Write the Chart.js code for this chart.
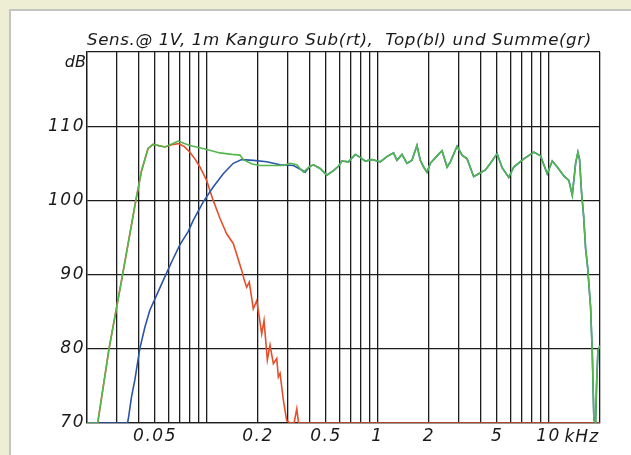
<!DOCTYPE html>
<html>
<head>
<meta charset="utf-8">
<script src="https://cdn.jsdelivr.net/npm/chart.js@4.4.1/dist/chart.umd.min.js"></script>
<style>
  html,body{margin:0;padding:0;background:#fff;}
  canvas{display:block;}
</style>
</head>
<body>
<canvas id="c" width="631" height="455"></canvas>
<script>
// ---- data (frequency in kHz, level in dB) ----
const titleText = "Sens.@ 1V, 1m Kanguro Sub(rt),  Top(bl) und Summe(gr)";

// Summe (green)
const sumFreq = [0.02,0.0231,0.0269,0.0323,0.0386,0.0417,0.0455,0.0487,0.0571,0.0627,0.0683,0.0737,0.0799,0.0953,0.1198,0.1408,0.1569,0.164,0.1845,0.2055,0.2813,
  0.308,0.3372,0.3685,0.4033,0.4218,0.4616,0.5052,0.5524,0.5908,0.6185,0.6761,0.7404,0.792,0.8472,0.9273,1.037,1.135,1.241,1.299,1.39,1.487,1.59,1.701,1.779,1.86,1.947,2.036,2.228,2.384,2.551,2.667,2.919,3.122,3.34,3.651,3.905,4.275,4.574,5.005,5.355,5.854,6.263,7.166,8.202,8.978,9.826,10.51,11.25,12.29,13.15,13.77,14.4,14.85,15.19,15.61,16.03,16.48,16.93,17.62,18.03,18.42,18.85,19.11,19.45,19.98];
const sumDb = [70,70,80,90,100,104,107.0,107.55,107.2,107.6,108.0,107.7,107.4,107.0,106.4,106.2,106.1,105.5,104.9,104.7,104.7,
  105.0,104.8,103.8,104.6,104.8,104.3,103.4,104.0,104.6,105.3,105.2,106.2,105.8,105.3,105.5,105.2,105.9,106.4,105.4,106.2,105.0,105.4,107.4,105.4,104.5,103.8,105.0,106.0,106.7,104.5,105.2,107.3,106.1,105.6,103.2,103.6,104.1,105.0,106.3,104.4,103.1,104.5,105.6,106.5,106.0,103.6,105.3,104.5,103.3,102.7,100.7,105.0,106.5,105.5,101.0,98.0,93.5,91.0,85.6,79.4,70.4,70.0,75.3,79.8,80.4];

// Sub (red)
const subFreq = [0.02,0.0231,0.0269,0.0323,0.0386,0.0417,0.0455,0.0487,0.0571,0.0627,0.0683,0.0737,0.0799,0.0855,0.0915,0.1001,0.1094,0.1198,0.1311,0.1433,0.1605,0.1656,0.1717,0.1779,0.1877,0.1966,0.2028,0.2102,0.2169,0.2268,0.2351,0.2459,0.2574,0.263,0.2692,0.2813,0.2945,0.308,0.3251,0.3372,0.3454,20];
const subDb = [70,70,80,90,100,104,107.0,107.55,107.2,107.5,107.65,107.3,106.5,105.6,104.5,102.7,100.0,97.6,95.5,94.2,90.6,89.4,88.3,89.0,85.4,86.5,84.5,82.0,83.8,78.5,80.5,78.0,78.7,76.2,76.7,73.1,70.3,70,70,71.9,70,70];

// Top (blue), low part; above 0.41 kHz it runs under the green sum curve
const topFreqLow = [0.02,0.0345,0.0348,0.0364,0.0381,0.0407,0.0436,0.0466,0.051,0.0578,0.0625,0.0698,0.0781,0.0836,0.0957,0.1094,0.1253,0.1433,0.1605,0.1877,0.225,0.2692,0.3221,0.3607,0.3771,0.4033];
const topDbLow = [70,70,70.4,73.5,75.8,80.0,82.9,85.2,87.2,90.0,91.7,94.0,95.8,97.3,99.8,101.8,103.6,105.0,105.5,105.4,105.2,104.8,104.7,104.1,103.8,104.6];

// axis
const gridFreqs = [0.02,0.03,0.04,0.05,0.06,0.07,0.08,0.09,0.1,0.2,0.3,0.4,0.5,0.6,0.7,0.8,0.9,1,2,3,4,5,6,7,8,9,10,20];
const xLabelFreqs = [0.05,0.2,0.5,1,2,5,10];
const yTicks = [70,80,90,100,110];

// ---- build series ----
const pts = (fx, dy) => fx.map((f,i)=>({x:f,y:dy[i]}));
const sumData = pts(sumFreq,sumDb);
const subData = pts(subFreq,subDb);
const topData = pts(topFreqLow,topDbLow).concat(sumData.filter(p=>p.x>0.41));

const GREEN='#52b84e', RED='#e5502b', BLUE='#2b55a8', GRID='#1c1c1c';
const FONT='"DejaVu Sans"';

const deco = {
  id:'deco',
  beforeDraw(chart){
    const ctx=chart.ctx;
    ctx.save();
    ctx.fillStyle='#eeeed4'; ctx.fillRect(0,0,631,455);
    ctx.fillStyle='#ffffff'; ctx.fillRect(10,10,621,445);
    ctx.fillStyle='#c4c4c4'; ctx.fillRect(9,9,622,2); ctx.fillRect(9,9,2,446);
    ctx.restore();
    ctx.letterSpacing='1.5px';
  },
  afterDraw(chart){
    const ctx=chart.ctx, a=chart.chartArea, xs=chart.scales.x;
    ctx.save();
    ctx.fillStyle='#1a1a1a';
    // title
    ctx.letterSpacing='0.6px';
    ctx.font='italic 17px '+FONT;
    const w=ctx.measureText(titleText).width;
    const size=17*505/w;
    ctx.font='italic '+size.toFixed(2)+'px '+FONT;
    ctx.textAlign='left'; ctx.textBaseline='alphabetic';
    ctx.fillText(titleText, a.left, 44.5);
    // dB unit
    ctx.letterSpacing='0px';
    ctx.font='italic 16px '+FONT;
    ctx.textAlign='right';
    ctx.fillText('dB', a.left-1, 67);
    // kHz unit
    ctx.letterSpacing='1px';
    ctx.font='italic 17px '+FONT;
    ctx.textAlign='left';
    ctx.fillText('kHz', xs.getPixelForValue(10)+16, 441.5);
    ctx.restore();
  }
};

new Chart(document.getElementById('c'), {
  type:'line',
  data:{datasets:[
    {label:'Summe', data:sumData, borderColor:GREEN, borderWidth:1.6, pointRadius:0, tension:0, fill:false},
    {label:'Top', data:topData, borderColor:BLUE, borderWidth:1.6, pointRadius:0, tension:0, fill:false},
    {label:'Sub', data:subData, borderColor:RED, borderWidth:1.6, pointRadius:0, tension:0, fill:false}
  ]},
  options:{
    responsive:false, animation:false, devicePixelRatio:1,
    layout:{padding:{top:52,left:0,right:31,bottom:0}},
    plugins:{legend:{display:false}, tooltip:{enabled:false}, title:{display:false}},
    scales:{
      x:{
        type:'logarithmic', min:0.02, max:20,
        afterBuildTicks:(ax)=>{ ax.ticks = gridFreqs.map(v=>({value:v})); },
        afterFit:(ax)=>{ ax.height = 32; },
        grid:{color:GRID, lineWidth:1.3, drawTicks:false},
        border:{color:GRID, width:1.3},
        ticks:{
          autoSkip:false, maxRotation:0, padding:3, color:'#1a1a1a',
          font:{family:FONT, size:17, style:'italic'},
          callback:(v)=> xLabelFreqs.includes(v) ? String(v) : ''
        }
      },
      y:{
        type:'linear', min:70, max:120,
        afterBuildTicks:(ax)=>{ ax.ticks = [70,80,90,100,110,120].map(v=>({value:v})); },
        afterFit:(ax)=>{ ax.width = 87; },
        grid:{color:GRID, lineWidth:1.3, drawTicks:false},
        border:{color:GRID, width:1.3},
        ticks:{
          padding:2, color:'#1a1a1a',
          font:{family:FONT, size:17, style:'italic'},
          callback:(v)=> yTicks.includes(v) ? String(v) : ''
        }
      }
    }
  },
  plugins:[deco]
});
</script>
</body>
</html>
